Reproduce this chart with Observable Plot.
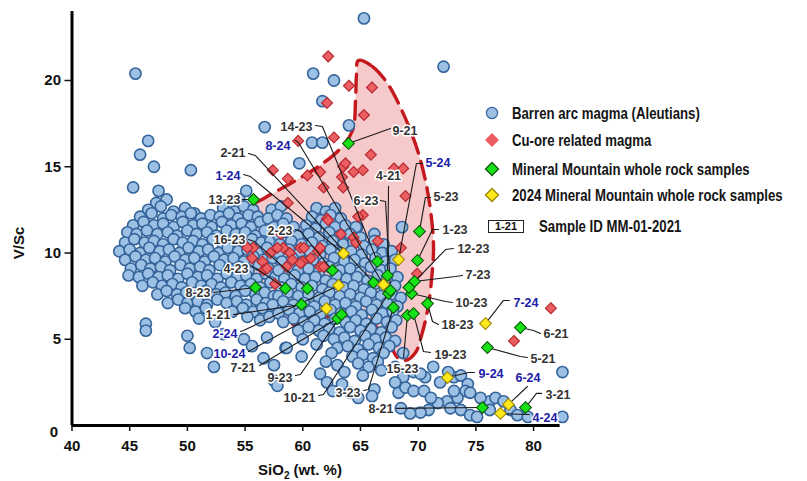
<!DOCTYPE html>
<html>
<head>
<meta charset="utf-8">
<script src="https://cdn.jsdelivr.net/npm/d3@7"></script>
<script src="https://cdn.jsdelivr.net/npm/@observablehq/plot@0.6"></script>
<style>
  body { margin: 0; background: #fff; font-family: "Liberation Sans", Arial, sans-serif; }
  #wrap { position: relative; width: 807px; height: 481px; overflow: hidden; background: #fff; }
  .axis-title { position: absolute; font-weight: bold; font-size: 15px; color: #111; white-space: nowrap; }
  .lg-row { position: absolute; left: 482px; height: 22px; display: flex; align-items: center; }
  .lg-row svg { flex: none; }
  .lg-text { font-weight: bold; font-size: 16.5px; color: #151515; white-space: nowrap;
             transform: scaleX(0.8); transform-origin: left center; margin-left: 10px; }
  .lg-box { flex: none; border: 1px solid #222; font-size: 11px; font-weight: bold; line-height: 11px;
            padding: 0 6px; margin-left: 2px; color: #111; }
</style>
</head>
<body>
<div id="wrap"></div>
<script>
// Barren arc magma (Aleutians): [SiO2 wt.%, V/Sc]
const barren = [
  [65.3,23.6],[45.5,20.4],[60.9,20.4],[62.7,20.0],[72.2,20.8],[61.7,18.8],[56.7,17.3],[64.0,17.4],
  [60.8,16.4],[61.7,16.4],[59.7,15.2],[46.6,16.5],[45.9,15.7],[47.1,15.0],[50.3,14.8],[45.3,13.8],
  [47.5,13.6],[55.1,13.6],[68.6,11.5],[64.7,11.5],
  [47.3,12.9],[48.2,13.1],[53.7,12.9],[54.5,13.1],
  [46.6,12.5],[47.7,12.7],[48.8,12.4],[49.8,12.6],[50.6,12.3],[53.1,12.6],[54.1,12.4],[54.9,12.7],[55.7,12.5],
  [45.9,12.1],[46.9,12.3],[47.9,12.0],[48.6,12.2],[49.5,12.1],[50.3,12.3],[51.2,12.0],[52.0,12.2],[52.8,12.1],[53.6,12.3],[54.4,12.0],[55.3,12.2],[56.1,12.1],
  [45.3,11.6],[46.2,11.8],[47.1,11.6],[47.9,11.7],[48.8,11.5],[49.6,11.8],[50.5,11.6],[51.3,11.7],[52.1,11.5],[53.0,11.8],[53.8,11.6],[54.7,11.7],[55.5,11.5],[56.3,11.8],
  [44.8,11.2],[45.6,11.1],[46.5,11.3],[47.4,11.1],[48.3,11.2],[49.1,11.0],[50.0,11.3],[50.8,11.1],[51.7,11.2],[52.5,11.0],[53.4,11.3],[54.2,11.1],[55.0,11.2],[55.9,11.0],[56.7,11.3],
  [44.6,10.6],[45.4,10.8],[46.3,10.6],[47.1,10.7],[47.9,10.5],[48.8,10.8],[49.6,10.6],[50.5,10.7],[51.3,10.5],[52.2,10.8],[53.0,10.6],[53.9,10.7],[54.7,10.5],[55.6,10.8],[56.4,10.6],[57.2,10.7],
  [44.1,10.1],[45.0,10.2],[45.9,10.0],[46.7,10.3],[47.6,10.1],[48.4,10.2],[49.3,10.0],[50.1,10.3],[51.0,10.1],[51.8,10.2],[52.7,10.0],[53.5,10.3],[54.4,10.1],[55.2,10.2],[56.1,10.0],[56.9,10.3],
  [44.6,9.6],[45.5,9.8],[46.4,9.6],[47.2,9.7],[48.1,9.5],[48.9,9.8],[49.8,9.6],[50.6,9.7],[51.5,9.5],[52.3,9.8],[53.2,9.6],[54.0,9.7],[54.9,9.5],[55.7,9.8],[56.6,9.6],[57.4,9.7],
  [45.1,9.1],[46.0,9.3],[46.8,9.1],[47.7,9.2],[48.5,9.0],[49.4,9.3],[50.2,9.1],[51.1,9.2],[51.9,9.0],[52.8,9.3],[53.6,9.1],[54.5,9.2],[55.3,9.0],[56.2,9.3],[57.0,9.1],
  [44.9,8.7],[45.8,8.6],[46.6,8.8],[47.5,8.6],[48.3,8.7],[49.2,8.5],[50.0,8.8],[50.9,8.6],[51.7,8.7],[52.6,8.5],[53.4,8.8],[54.3,8.6],[55.1,8.7],[56.0,8.5],[56.8,8.8],[57.6,8.6],
  [46.1,8.1],[47.0,8.3],[47.8,8.1],[48.7,8.2],[49.5,8.0],[50.4,8.3],[51.2,8.1],[52.1,8.2],[52.9,8.0],[53.8,8.3],[54.6,8.1],[55.5,8.2],[56.3,8.0],[57.2,8.3],
  [47.4,7.6],[48.2,7.8],[49.1,7.6],[49.9,7.7],[50.8,7.5],[51.6,7.8],[52.5,7.6],[53.3,7.7],[54.2,7.5],[55.0,7.8],[55.9,7.6],[56.7,7.7],[57.5,7.5],
  [48.3,7.1],[49.2,7.3],[50.0,7.1],[50.9,7.2],[51.7,7.0],[52.6,7.3],[53.4,7.1],[54.3,7.2],[55.1,7.0],[56.0,7.3],[56.8,7.1],
  [49.8,6.8],[50.7,6.6],[51.6,6.8],[53.9,6.6],[54.8,6.8],[55.7,6.6],[56.5,6.8],[57.4,6.6],
  [51.0,6.2],[52.4,6.0],[55.2,6.3],[56.3,6.1],[57.1,6.3],
  [46.4,5.9],[46.4,5.5],[50.0,5.2],[50.2,4.5],[51.7,4.2],[52.3,3.4],[53.1,5.3],[54.9,5.0],[56.6,3.9],
  [56.9,5.1],[57.5,2.6],[58.5,4.5],[55.6,4.6],[57.5,3.5],
  [57.3,12.5],[58.1,12.7],[61.2,12.6],[62.0,12.4],[62.8,12.6],
  [57.0,12.0],[57.8,12.2],[58.6,12.0],[60.8,12.1],[61.6,11.9],[62.4,12.2],[63.3,12.0],
  [57.5,11.5],[58.3,11.7],[59.2,11.5],[60.3,11.6],[61.1,11.4],[62.0,11.7],[62.8,11.5],[63.7,11.6],[64.6,11.5],
  [57.9,11.0],[58.7,11.2],[59.6,11.0],[60.5,11.1],[61.4,10.9],[62.3,11.2],[63.2,11.0],[64.1,11.1],[65.0,10.9],[66.2,11.1],
  [58.0,10.5],[59.0,10.7],[59.9,10.5],[60.8,10.6],[61.7,10.4],[62.6,10.7],[63.5,10.5],[64.4,10.6],[65.3,10.4],[66.2,10.7],[67.0,10.5],
  [57.9,10.0],[58.8,10.2],[59.7,10.0],[60.6,10.1],[61.5,9.9],[62.4,10.2],[63.3,10.0],[64.2,10.1],[65.1,9.9],[66.0,10.2],[66.9,10.0],[67.7,10.1],
  [58.2,9.5],[59.1,9.7],[60.0,9.5],[60.9,9.6],[61.8,9.4],[62.7,9.7],[63.6,9.5],[64.5,9.6],[65.4,9.4],[66.3,9.7],[67.2,9.5],[68.0,9.6],
  [57.9,9.0],[58.8,9.2],[59.6,9.0],[60.5,9.1],[61.4,8.9],[62.3,9.2],[63.2,9.0],[64.1,9.1],[65.0,8.9],[65.9,9.2],[66.8,9.0],[67.6,9.1],
  [58.4,8.5],[59.3,8.7],[60.2,8.5],[61.1,8.6],[62.0,8.4],[62.9,8.7],[63.8,8.5],[64.7,8.6],[65.6,8.4],[66.5,8.7],[67.3,8.5],[68.2,8.6],
  [58.1,8.0],[59.0,8.2],[59.9,8.0],[60.8,8.1],[61.7,7.9],[62.6,8.2],[63.5,8.0],[64.4,8.1],[65.3,7.9],[66.2,8.2],[67.1,8.0],[68.0,8.1],
  [57.9,7.5],[58.7,7.7],[59.6,7.5],[60.5,7.6],[61.4,7.4],[62.3,7.7],[63.2,7.5],[64.1,7.6],[65.0,7.4],[65.9,7.7],[66.8,7.5],[67.7,7.6],[68.5,7.4],
  [57.4,7.0],[58.3,7.2],[59.2,7.0],[60.1,7.1],[61.0,6.9],[61.9,7.2],[62.8,7.0],[63.7,7.1],[64.6,6.9],[65.5,7.2],[66.4,7.0],[67.3,7.1],[68.2,6.9],
  [57.9,6.5],[58.8,6.7],[59.7,6.5],[60.6,6.6],[61.5,6.4],[62.4,6.7],[63.3,6.5],[64.2,6.6],[65.1,6.4],[66.0,6.7],[66.9,6.5],[67.8,6.6],
  [58.3,6.0],[59.2,6.2],[60.1,6.0],[61.0,6.1],[61.9,5.9],[62.8,6.2],[63.7,6.0],[64.6,6.1],[65.5,5.9],[66.4,6.2],[67.3,6.0],[68.1,6.1],
  [59.6,5.5],[60.5,5.7],[61.4,5.5],[62.3,5.6],[63.2,5.4],[64.1,5.7],[65.0,5.5],[65.9,5.6],[66.8,5.4],[67.7,5.7],
  [60.0,5.0],[61.8,5.2],[62.7,5.0],[63.6,5.1],[64.5,4.9],[65.4,5.2],[66.3,5.0],[67.2,5.1],[68.0,4.9],
  [58.6,4.5],[61.2,4.7],[63.0,4.5],[63.9,4.6],[64.8,4.4],[65.7,4.7],[66.6,4.5],[67.5,4.6],
  [59.9,4.0],[62.5,4.2],[64.3,4.0],[65.2,4.1],[66.1,3.9],[67.0,4.2],
  [62.0,3.7],[63.0,3.5],[64.8,3.6],[65.7,3.4],[66.5,3.7],
  [61.5,3.0],[63.6,3.1],[65.2,2.9],[66.8,3.2],
  [57.8,2.3],[62.1,2.5],[63.4,2.4],[62.6,2.0],[64.1,1.9],[66.2,2.1],[64.8,1.6],[66.0,1.7],
  [68.7,4.2],[68.0,3.4],[68.7,2.8],[69.6,3.1],[70.6,2.8],[71.3,3.4],[71.9,2.5],[73.1,2.8],[73.7,2.9],
  [74.3,2.4],[74.1,2.0],[74.5,1.9],[73.4,1.6],[72.5,1.4],[71.7,1.3],[70.9,0.9],[70.2,0.75],[69.3,0.7],
  [68.5,1.0],[68.3,1.9],[68.9,2.2],[69.6,2.0],[70.5,2.0],[71.1,1.6],[72.8,1.0],[73.7,0.9],[74.5,0.6],
  [75.1,0.5],[76.2,1.4],[76.7,1.6],[77.4,1.4],[78.0,0.9],[76.2,0.9],[78.6,0.6],[79.5,0.5],[75.4,1.6],
  [73.1,2.0],[68.0,2.5],[70.2,3.0],[72.6,3.1],[82.5,3.1],[82.5,0.5]
];

// Cu-ore related magma: [SiO2 wt.%, V/Sc]
const cuOre = [
  [62.2,21.4],[64.0,19.7],[66.0,19.6],[62.1,18.7],[65.3,18.0],[62.7,16.7],[59.6,16.5],[65.9,15.7],
  [57.4,14.8],[58.7,14.3],[60.4,14.5],[61.5,14.7],[63.5,15.0],[64.4,14.7],[65.2,14.8],[63.4,14.4],
  [67.9,14.9],[68.7,14.9],[63.5,13.8],[68.9,13.3],[63.7,15.2],[61.8,13.8],[58.7,12.9],[62.1,12.0],
  [65.2,12.2],[63.3,11.1],[64.4,10.9],[66.5,10.7],[68.5,10.3],[69.9,8.8],[55.7,10.3],[55.6,9.7],
  [56.5,9.5],[57.2,10.0],[56.6,9.0],[57.6,8.2],[58.3,10.3],[58.9,10.0],[59.1,9.6],[59.8,10.3],
  [60.0,9.5],[60.7,9.7],[61.3,10.1],[61.5,9.2],[58.1,11.1],[62.2,11.9],[64.6,10.6],[81.5,6.8],
  [78.3,4.9],[55.2,10.3],[56.9,9.1],[57.8,10.3],[58.6,9.2],[60.1,10.3],[61.5,10.3],[59.8,9.4],
  [64.8,12.1],[61.8,9.2]
];

// Cu-ore field outline
const cuZone = [
  [64.82,21.16],[66.04,20.81],[67.34,19.83],[68.47,18.43],[69.33,17.10],[70.03,15.77],[70.63,14.20],
  [71.07,12.46],[71.33,10.43],[71.15,8.41],[70.81,6.67],[70.29,5.22],[69.77,4.23],[68.90,3.77],
  [68.21,3.94],[67.60,4.64],[66.73,5.51],[65.43,6.09],[63.96,6.49],[61.53,6.20],[59.19,5.86],
  [57.20,6.67],[55.64,8.12],[54.86,9.57],[54.95,11.30],[55.47,12.64],[56.77,13.22],[58.93,14.03],
  [61.10,14.90],[63.09,15.94],[64.31,17.10],[64.57,18.84],[64.65,20.29]
];

// Mineral Mountain whole rock samples: [id, SiO2, V/Sc]
const greenSamples = [
  ["13-23",55.73,13.10],["9-21",63.96,16.35],["14-23",66.47,9.51],["2-21",66.13,8.29],
  ["16-23",60.40,7.94],["2-23",62.57,8.99],["4-23",58.50,7.94],["8-23",55.90,8.00],
  ["1-21",59.89,7.01],["7-21",63.01,6.20],["9-23",63.36,6.43],["10-21",67.43,7.65],
  ["3-23",67.86,6.84],["8-21",75.57,1.04],["15-23",69.07,6.38],["19-23",69.59,6.49],
  ["18-23",70.81,7.07],["10-23",69.42,7.65],["7-23",69.68,8.35],["12-23",69.20,8.00],
  ["1-23",69.94,9.57],["5-23",70.11,11.25],["4-21",67.34,8.70],["6-23",67.60,7.83],
  ["6-21",78.86,5.68],["5-21",76.00,4.52],["3-21",79.30,1.04]
];

// 2024 Mineral Mountain whole rock samples: [id, SiO2, V/Sc]
const yellowSamples = [
  ["1-24",63.53,9.97],["8-24",66.99,8.17],["2-24",63.10,8.12],["10-24",62.05,6.78],
  ["5-24",68.30,9.62],["9-24",72.54,2.78],["7-24",75.83,5.91],["6-24",77.82,1.22],["4-24",77.13,0.70]
];

// Sample ID callouts: [id, textX, textY, anchor, leaderStartX, leaderStartY, elbowX, elbowY]
const labelLayout = [
  ["13-23",54.60,13.10,"end",54.77,13.10,54.77,13.10],
  ["9-21",67.77,17.10,"start",67.60,17.22,67.60,17.22],
  ["14-23",60.84,17.28,"end",61.10,17.39,61.70,17.33],
  ["8-24",58.93,16.23,"end",59.36,16.52,59.62,16.41],
  ["2-21",55.03,15.77,"end",55.29,15.77,55.90,15.65],
  ["1-24",54.60,14.49,"end",54.86,14.55,55.47,14.43],
  ["16-23",55.03,10.78,"end",55.29,10.78,55.81,10.67],
  ["2-23",59.11,11.30,"end",59.36,11.36,59.80,11.25],
  ["4-23",55.29,9.10,"end",55.47,9.22,55.99,9.10],
  ["8-23",52.00,7.71,"end",52.26,7.71,52.26,7.71],
  ["1-21",53.73,6.38,"end",53.99,6.43,53.99,6.43],
  ["2-24",54.34,5.33,"end",54.60,5.45,54.86,5.51],
  ["10-24",55.03,4.17,"end",55.29,4.29,55.29,4.29],
  ["7-21",55.90,3.36,"end",56.25,3.48,56.25,3.48],
  ["9-23",59.11,2.78,"end",59.36,2.90,59.80,2.96],
  ["10-21",61.10,1.62,"end",61.36,1.74,61.79,1.80],
  ["3-23",65.00,1.91,"end",65.26,2.03,65.69,2.09],
  ["8-21",67.86,0.93,"end",68.12,0.99,68.12,0.99],
  ["15-23",68.64,3.30,"middle",68.73,3.94,68.73,3.94],
  ["19-23",71.41,4.06,"start",71.07,4.23,70.46,4.29],
  ["18-23",72.02,5.80,"start",71.76,5.86,71.24,6.03],
  ["10-23",73.23,7.13,"start",72.97,7.13,72.37,7.19],
  ["7-23",74.10,8.70,"start",73.84,8.70,73.23,8.64],
  ["12-23",73.40,10.26,"start",73.06,10.26,72.37,10.20],
  ["1-23",72.11,11.36,"start",71.76,11.36,71.24,11.36],
  ["5-23",71.33,13.22,"start",71.07,13.22,70.63,13.22],
  ["5-24",70.63,15.19,"start",70.37,15.19,69.85,15.19],
  ["4-21",67.43,14.49,"middle",67.43,13.86,67.43,13.86],
  ["6-23",66.56,13.04,"end",66.73,13.04,67.17,12.99],
  ["9-24",75.23,3.01,"start",74.88,3.07,74.36,3.07],
  ["7-24",78.26,7.13,"start",77.91,7.25,77.39,7.25],
  ["6-21",80.86,5.33,"start",80.60,5.33,79.99,5.51],
  ["5-21",79.73,3.88,"start",79.47,3.94,78.86,4.00],
  ["6-24",78.43,2.78,"start",79.47,2.26,79.47,2.26],
  ["3-21",81.03,1.74,"start",80.69,1.86,80.25,1.86],
  ["4-24",79.90,0.46,"start",79.64,0.64,79.04,0.64]
];

const xTicks = [40, 45, 50, 55, 60, 65, 70, 75, 80];
const yTicks = [5, 10, 15, 20];
const yZeroTick = [0];
const xAxisEnd = 82.3;
const yAxisTop = 24;

const legendLabels = [
  "Barren arc magma (Aleutians)",
  "Cu-ore related magma",
  "Mineral Mountain whole rock samples",
  "2024 Mineral Mountain whole rock samples"
];
const legendKey = ["1-21", "Sample ID MM-01-2021"];

// colours
const C = {
  barrenFill: "#9cc1e5", barrenStroke: "#34649a",
  cuFill: "#ec5e62", cuStroke: "#b52a30",
  greenFill: "#17e117", greenStroke: "#0c560c",
  yellowFill: "#ffe81c", yellowStroke: "#9a8600",
  zoneFill: "#f6caca", zoneStroke: "#c41a1f",
  idDark: "#333333", idBlue: "#2020a8"
};

const sampleRows = [...greenSamples, ...yellowSamples];
const samplePos = new Map(sampleRows.map(([id, x, y]) => [id, [x, y]]));

const leaders = labelLayout.flatMap(([id, , , , sx, sy, ex, ey]) => {
  const [px, py] = samplePos.get(id);
  return [{id, x: sx, y: sy}, {id, x: ex, y: ey}, {id, x: px, y: py}];
});

const labels = labelLayout.map(([id, x, y, anchor]) => ({id, x, y, anchor, is2024: id.endsWith("-24")}));

const labelMarks = [];
for (const anchor of ["start", "middle", "end"]) {
  for (const is2024 of [false, true]) {
    const rows = labels.filter(d => d.anchor === anchor && d.is2024 === is2024);
    if (!rows.length) continue;
    labelMarks.push(Plot.text(rows, {
      x: "x", y: "y", text: "id", textAnchor: anchor,
      fill: is2024 ? C.idBlue : C.idDark,
      stroke: "white", strokeWidth: 3,
      fontSize: 12.5, fontWeight: "bold"
    }));
  }
}

const chart = Plot.plot({
  width: 807,
  height: 481,
  marginLeft: 71.5,
  marginRight: 239.3,
  marginTop: 11,
  marginBottom: 56,
  x: {domain: [40, 83]},
  y: {domain: [0, 24]},
  style: {fontFamily: "'Liberation Sans', Arial, sans-serif", background: "white", overflow: "visible"},
  marks: [
    Plot.line(cuZone, {x: d => d[0], y: d => d[1], curve: "catmull-rom-closed",
      fill: C.zoneFill, stroke: C.zoneStroke, strokeWidth: 3.4, strokeDasharray: "18,9"}),
    Plot.dot(barren, {x: d => d[0], y: d => d[1], r: 5.6,
      fill: C.barrenFill, stroke: C.barrenStroke, strokeWidth: 1.6}),
    Plot.dot(cuOre, {x: d => d[0], y: d => d[1], symbol: "diamond2", r: 4.9,
      fill: C.cuFill, stroke: C.cuStroke, strokeWidth: 1.2}),
    Plot.line(leaders, {x: "x", y: "y", z: "id", stroke: "#1b1b1b", strokeWidth: 1.1}),
    Plot.dot(greenSamples, {x: d => d[1], y: d => d[2], symbol: "diamond2", r: 5.3,
      fill: C.greenFill, stroke: C.greenStroke, strokeWidth: 1.1}),
    Plot.dot(yellowSamples, {x: d => d[1], y: d => d[2], symbol: "diamond2", r: 5.3,
      fill: C.yellowFill, stroke: C.yellowStroke, strokeWidth: 1.1}),
    ...labelMarks,
    Plot.ruleY([0], {x1: 40, x2: xAxisEnd, stroke: "#000", strokeWidth: 3}),
    Plot.ruleX([40], {y1: 0, y2: yAxisTop, stroke: "#000", strokeWidth: 3}),
    Plot.axisX({ticks: xTicks, tickSize: 6, tickPadding: 9, label: null,
      fontSize: 15, fontWeight: "bold", color: "#111", strokeWidth: 1.5}),
    Plot.axisY({ticks: yTicks, tickSize: 7, tickPadding: 4, label: null,
      fontSize: 15, fontWeight: "bold", color: "#111", strokeWidth: 1.5}),
    Plot.axisY({ticks: yZeroTick, tickSize: 0, tickPadding: 14, dy: 7, label: null,
      fontSize: 15, fontWeight: "bold", color: "#111"})
  ]
});

const wrap = document.getElementById("wrap");
wrap.appendChild(chart);

// axis titles
const yTitle = document.createElement("div");
yTitle.className = "axis-title";
yTitle.textContent = "V/Sc";
yTitle.style.left = "18px";
yTitle.style.top = "243px";
yTitle.style.transform = "translate(-50%, -50%) rotate(-90deg)";
wrap.appendChild(yTitle);

const xTitle = document.createElement("div");
xTitle.className = "axis-title";
xTitle.innerHTML = "SiO<sub style='font-size:10px'>2</sub> (wt. %)";
xTitle.style.left = "300px";
xTitle.style.top = "471px";
xTitle.style.transform = "translate(-50%, -50%)";
wrap.appendChild(xTitle);

// legend
const legendMarkers = [
  `<svg width="20" height="20"><circle cx="10" cy="10" r="5.6" fill="${C.barrenFill}" stroke="${C.barrenStroke}" stroke-width="1.2"/></svg>`,
  `<svg width="20" height="20"><path d="M10 3 L17 10 L10 17 L3 10 Z" fill="${C.cuFill}" stroke="none"/></svg>`,
  `<svg width="20" height="20"><path d="M10 3.5 L16.5 10 L10 16.5 L3.5 10 Z" fill="${C.greenFill}" stroke="${C.greenStroke}" stroke-width="1.3"/></svg>`,
  `<svg width="20" height="20"><path d="M10 3.5 L16.5 10 L10 16.5 L3.5 10 Z" fill="${C.yellowFill}" stroke="${C.yellowStroke}" stroke-width="1.3"/></svg>`
];
const legendY = [113, 140, 169, 195];
legendLabels.forEach((label, i) => {
  const row = document.createElement("div");
  row.className = "lg-row";
  row.style.top = (legendY[i] - 11) + "px";
  row.innerHTML = legendMarkers[i] + `<span class="lg-text">${label}</span>`;
  wrap.appendChild(row);
});
const keyRow = document.createElement("div");
keyRow.className = "lg-row";
keyRow.style.top = (226 - 11) + "px";
keyRow.style.left = "486px";
keyRow.innerHTML = `<span class="lg-box">${legendKey[0]}</span><span class="lg-text" style="margin-left:15px">${legendKey[1]}</span>`;
wrap.appendChild(keyRow);
</script>
</body>
</html>
